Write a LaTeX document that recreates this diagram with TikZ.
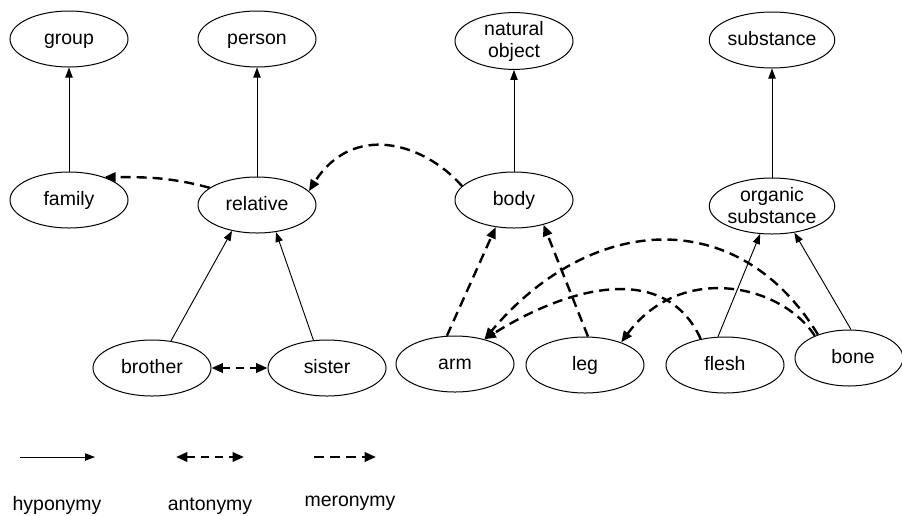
\documentclass[tikz,border=0pt]{standalone}
\usepackage{fontspec}
\setmainfont{Liberation Sans}
\usetikzlibrary{shapes.geometric,arrows.meta}
\begin{document}
\begin{tikzpicture}[x=0.75pt,y=0.75pt,
  labelfont/.style={font=\fontsize{14.6}{16.5}\selectfont},
  concept/.style={ellipse,draw,line width=0.75pt,minimum width=88.5pt,
    minimum height=42pt,inner sep=0pt,align=center,labelfont,
    text height=1.0em,text depth=0.22em},
  concepttwo/.style={ellipse,draw,line width=0.75pt,minimum width=88.5pt,
    minimum height=42pt,inner sep=0pt,align=center,labelfont},
  hypo/.style={line width=0.7pt,-{Triangle[length=7.5pt,width=5.5pt]}},
  mero/.style={line width=1.8pt,dash pattern=on 7.5pt off 4.5pt,
    -{Triangle[length=8.5pt,width=7pt]}},
  anto/.style={line width=1.8pt,dash pattern=on 6pt off 4.5pt,
    {Triangle[length=8.5pt,width=7pt]}-{Triangle[length=8.5pt,width=7pt]}}]
\useasboundingbox (0,0) rectangle (902,-515);

% concepts
\node[concept]    (group)     at (69,-39)  {group};
\node[concept]    (person)    at (257,-39) {person};
\node[concepttwo] (natobj)    at (514,-41) {natural\\object};
\node[concept]    (substance) at (772,-40) {substance};
\node[concept]    (family)    at (69,-200) {family};
\node[concept]    (relative)  at (257,-205) {relative};
\node[concept]    (body)      at (514,-200) {body};
\node[concepttwo] (organic)   at (772,-206) {organic\\substance};
\node[concept]    (brother)   at (152,-368) {brother};
\node[concept]    (sister)    at (327,-368) {sister};
\node[concept]    (arm)       at (455,-364) {arm};
\node[concept]    (leg)       at (585,-365) {leg};
\node[concept]    (flesh)     at (725,-365) {flesh};
\node[concept,minimum width=81pt] (bone) at (849,-358) {\hspace*{6pt}bone};

% hyponymy
\draw[hypo] (family.north) -- (group.south);
\draw[hypo] (relative.north) -- (person.south);
\draw[hypo] (body.north) -- (natobj.south);
\draw[hypo] (organic.north) -- (substance.south);
\draw[hypo] (brother.55) -- (relative.226);
\draw[hypo] (sister.116) -- (relative.305);
\draw[hypo] (flesh.104) -- (organic.247);
\draw[hypo] (bone.86) -- (organic.310);

% antonymy
\draw[anto] (brother.east) -- (sister.west);

% meronymy
\draw[mero] (relative.160) to[out=165,in=0] (family.33);
\draw[mero] (body.165) .. controls +(-40,45) and +(43,68) .. (relative.15);
\draw[mero] (arm.106) -- (body.236);
\draw[mero] (leg.84) -- (body.320);
\draw[mero] (flesh.133) .. controls +(-35,77) and +(86,54) .. (arm.40);
\draw[mero] (bone.143) .. controls +(-80,131) and +(106,126) .. (arm.40);
\draw[mero] (bone.147) .. controls +(-34,52) and +(59,80) .. (leg.32);

% legend
\coordinate (h1) at (20,-457);  \coordinate (h2) at (95,-457);
\coordinate (a1) at (176,-457); \coordinate (a2) at (244,-457);
\coordinate (m1) at (314,-457); \coordinate (m2) at (376,-457);
\draw[hypo] (h1) -- (h2);
\draw[anto] (a1) -- (a2);
\draw[mero] (m1) -- (m2);
\node[labelfont,anchor=base] (lh) at (57,-510)  {hyponymy};
\node[labelfont,anchor=base] (la) at (210,-510) {antonymy};
\node[labelfont,anchor=base] (lm) at (350,-506) {meronymy};
\end{tikzpicture}
\end{document}
